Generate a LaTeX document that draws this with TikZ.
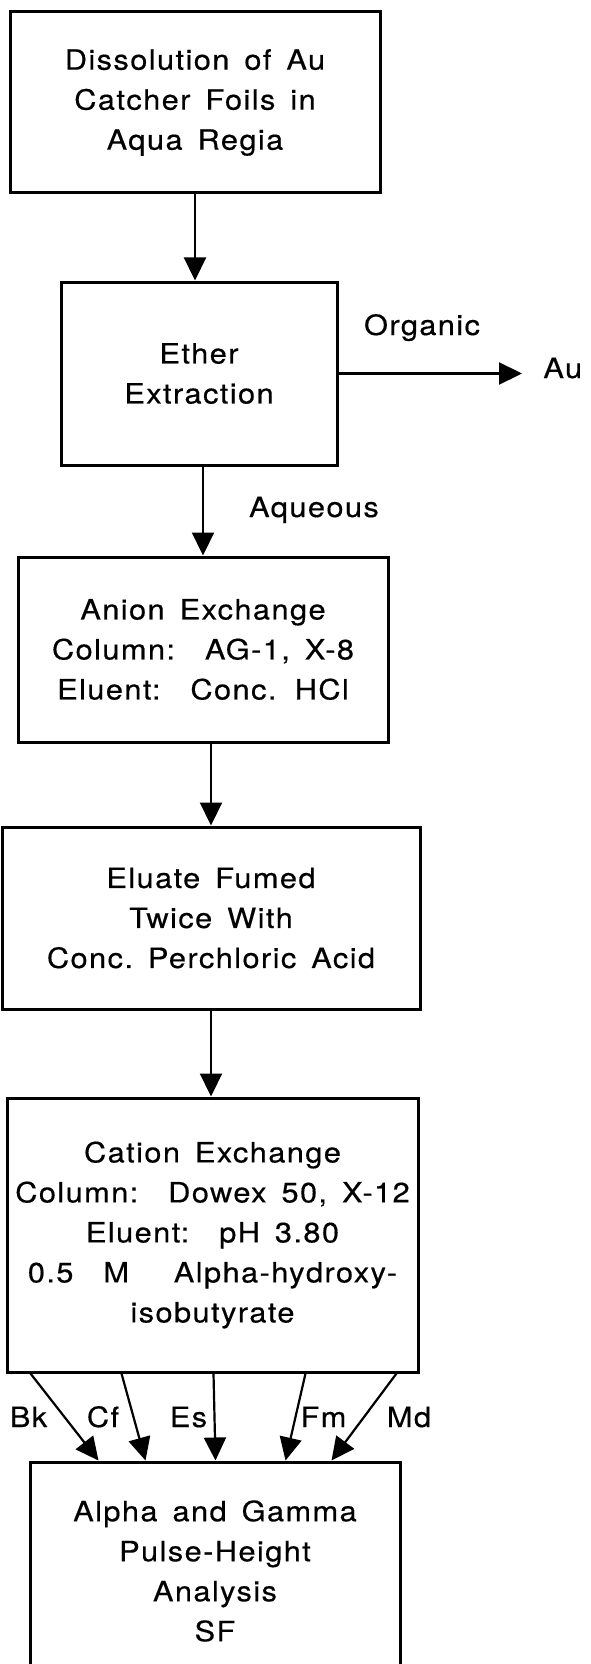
\documentclass[tikz,border=0pt]{standalone}
\usepackage{fontspec}
\setmainfont{TeX Gyre Heros}[FakeStretch=1.1, LetterSpace=5, WordSpace=1.5, FakeBold=0.4]
\usetikzlibrary{arrows.meta}
\begin{document}
\begin{tikzpicture}[x=0.5pt, y=-0.5pt,
        procbox/.style={rectangle, draw, line width=1.5pt, align=center,
          inner sep=0pt, font=\fontsize{14}{20}\selectfont},
        flow/.style={-{Triangle[length=11.5pt, width=11pt]}, line width=1.1pt},
        lab/.style={font=\fontsize{14}{20}\selectfont, anchor=base,
          inner sep=0pt}
      ]
      \clip (0,0) rectangle (590,1664);
      \node[procbox, minimum width=185pt, minimum height=90.5pt] (b1) at (195,102.5)
      {Dissolution of Au\\Catcher Foils in\\Aqua Regia};
      \node[procbox, minimum width=138pt, minimum height=91.5pt] (b2) at (199,373.5)
      {Ether\\Extraction};
      \node[procbox, minimum width=185pt, minimum height=92.5pt] (b3) at (203,649.5)
      {Anion Exchange\\Column:\ \ AG-1, X-8\\Eluent:\ \ Conc. HCl};
      \node[procbox, minimum width=209pt, minimum height=91pt] (b4) at (211,918)
      {Eluate Fumed\\Twice With\\Conc.\ Perchloric\ Acid};
      \node[procbox, minimum width=205.5pt, minimum height=137pt] (b5) at (212.5,1235)
      {Cation Exchange\\Column:\ \ Dowex 50,\ X-12\\Eluent:\ \ pH 3.80\\
        0.5\ \ M\ \ \ Alpha-hydroxy-\\isobutyrate};
      \node[procbox, minimum width=185pt, minimum height=109pt] (b6) at (215,1571)
      {Alpha and Gamma\\Pulse-Height\\Analysis\\SF};
      \node[lab, anchor=base west] (au) at (543,378) {Au};
      \node[lab] (org) at (422,335) {Organic};
      \node[lab] (aq) at (314,517) {Aqueous};
      \draw[flow] (b1.south) -- (b1.south |- b2.north);
      \draw[flow] (b2.east) -- (b2.east -| au.west) [shorten >=10.5pt];
      \draw[flow] (b3.north |- b2.south) -- (b3.north);
      \draw[flow] (b4.north |- b3.south) -- (b4.north);
      \draw[flow] (b4.south) -- (b4.south |- b5.north);
      \foreach \el/\sx/\ex/\lx [count=\i] in {Bk/12.5/35/28.5, Cf/58/58.5/103,
          Es/104/93.5/188.5, Fm/150/128.5/323.5, Md/195.5/151.5/409} {
        \coordinate (s\i) at ([xshift=\sx pt]b5.south west);
        \coordinate (e\i) at ([xshift=\ex pt]b6.north west);
        \draw[flow] (s\i) -- (e\i);
        \node[lab] (l\i) at (\lx,1427) {\el};
      }
    \end{tikzpicture}
\end{document}
